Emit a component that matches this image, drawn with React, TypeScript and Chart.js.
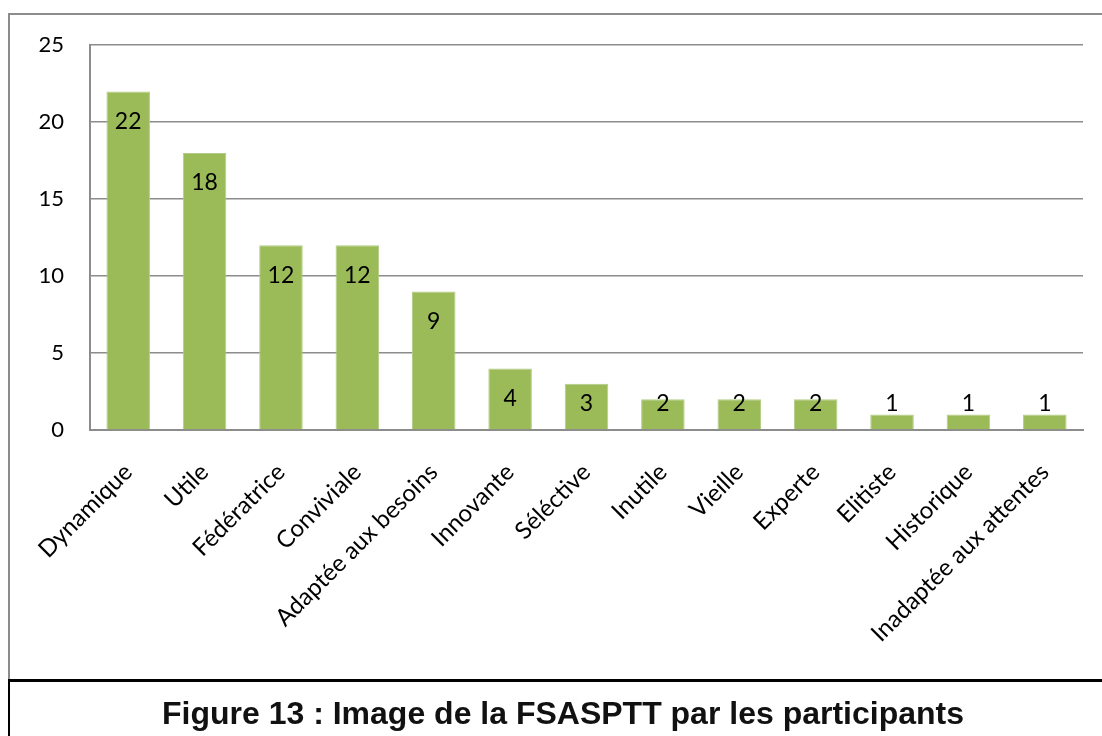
import React, { useEffect, useRef } from "react";
import { Chart, registerables } from "chart.js";

Chart.register(...registerables);

const categories = [
  "Dynamique",
  "Utile",
  "Fédératrice",
  "Conviviale",
  "Adaptée aux besoins",
  "Innovante",
  "Séléctive",
  "Inutile",
  "Vieille",
  "Experte",
  "Elitiste",
  "Historique",
  "Inadaptée aux attentes",
];
const counts = [22, 18, 12, 12, 9, 4, 3, 2, 2, 2, 1, 1, 1];
const yTicks = [0, 5, 10, 15, 20, 25];
const caption = "Figure 13 : Image de la FSASPTT par les participants";

const FONT = "Lato, 'Open Sans', sans-serif";

const valueLabels = {
  id: "valueLabels",
  afterDatasetsDraw(chart: any) {
    const ctx = chart.ctx;
    const meta = chart.getDatasetMeta(0);
    const base = chart.scales.y.getPixelForValue(0);
    ctx.save();
    ctx.font = `23px ${FONT}`;
    ctx.fillStyle = "#000";
    ctx.textAlign = "center";
    ctx.textBaseline = "middle";
    meta.data.forEach((bar: any, i: number) => {
      const y = Math.min(bar.y + 30, base - 26);
      ctx.fillText(String(counts[i]), bar.x, y);
    });
    ctx.restore();
  },
};

export default function App() {
  const ref = useRef<HTMLCanvasElement | null>(null);
  useEffect(() => {
    document.body.style.margin = "0";
    if (!ref.current) return;
    const chart = new Chart(ref.current, {
      type: "bar",
      data: {
        labels: categories,
        datasets: [
          {
            data: counts,
            backgroundColor: "#9BBB59",
            borderColor: "#B3CC85",
            borderWidth: 1,
            categoryPercentage: 1,
            barPercentage: 0.57,
          },
        ],
      },
      options: {
        animation: false,
        responsive: false,
        maintainAspectRatio: false,
        layout: { padding: { top: 10, right: 19, left: 0, bottom: 0 } },
        plugins: { legend: { display: false }, tooltip: { enabled: false } },
        scales: {
          x: {
            grid: { display: false, drawTicks: false },
            border: { color: "#8c8c8c", width: 2 },
            ticks: {
              color: "#000",
              font: { family: FONT, size: 24 },
              maxRotation: 45,
              minRotation: 45,
              padding: 28,
              autoSkip: false,
            },
            afterFit(scale: any) {
              scale.height = 250;
            },
          },
          y: {
            min: 0,
            max: 25,
            afterBuildTicks(scale: any) {
              scale.ticks = yTicks.map((v) => ({ value: v }));
            },
            grid: { color: "#8c8c8c", lineWidth: 1.5, drawTicks: false },
            border: { color: "#8c8c8c", width: 2 },
            ticks: {
              color: "#000",
              font: { family: FONT, size: 22 },
              padding: 26,
            },
            afterFit(scale: any) {
              scale.width = 80;
            },
          },
        },
      },
      plugins: [valueLabels],
    });
    return () => chart.destroy();
  }, []);

  return (
    <div style={{ position: "relative", width: 1102, height: 736, background: "#fff", overflow: "hidden" }}>
      <div
        style={{
          position: "absolute",
          left: 8,
          top: 13,
          width: 1094,
          height: 667,
          borderLeft: "2px solid #8c8c8c",
          borderTop: "2px solid #8c8c8c",
          boxSizing: "border-box",
        }}
      />
      <canvas
        ref={ref}
        width={1092}
        height={674}
        style={{ display: "block", position: "absolute", left: 10, top: 6 }}
      />
      <div
        style={{
          position: "absolute",
          left: 8,
          top: 679,
          width: 1094,
          height: 57,
          borderLeft: "2px solid #000",
          borderTop: "3px solid #000",
          boxSizing: "border-box",
          textAlign: "center",
          fontFamily: "'Liberation Sans', Arial, sans-serif",
          fontWeight: "bold",
          fontSize: 32,
          lineHeight: "62px",
          color: "#111",
          paddingLeft: 14,
        }}
      >
        {caption}
      </div>
    </div>
  );
}
